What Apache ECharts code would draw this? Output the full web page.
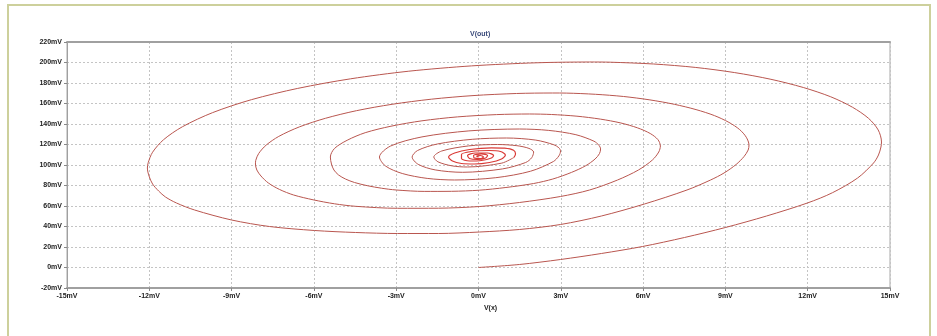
<!DOCTYPE html>
<html>
<head>
<meta charset="utf-8">
<script src="https://cdn.jsdelivr.net/npm/echarts@6/dist/echarts.min.js"></script>
<style>
  html, body { margin: 0; padding: 0; background: #ffffff; }
  #frame { position: absolute; left: 7px; top: 4px; width: 924px; height: 340px;
           border: 2px solid #cdd09c; border-bottom: none; box-sizing: border-box; }
  #chart { position: absolute; left: 0; top: 0; width: 937px; height: 336px; }
</style>
</head>
<body>
<div id="frame"></div>
<div id="chart"></div>
<script>
// Phase trace: V(out) against V(x), both in mV, a decaying spiral settling near (0, 108 mV)
// first turn
const turn1X = [0, 1.49, 2.99, 4.48, 5.98, 7.51, 9.00, 10.50, 11.99, 12.91, 13.82, 14.40, 14.58, 14.67, 14.69,
  14.57, 14.22, 13.63, 12.84, 11.84, 10.66, 9.34, 7.90, 6.38, 4.80, 4.05,
  2.10, -0.26, -2.54, -4.66, -6.59, -8.28, -9.69, -10.79, -11.48, -11.88, -12.04, -12.07,
  -12.01, -11.88, -11.66, -11.41, -11.01, -10.35, -9.00, -7.62, -5.98, -4.48, -2.95, -1.46, 0.04, 1.49, 2.99];
const turn1Y = [0, 2.93, 7.80, 13.66, 20.49, 29.27, 39.02, 50.24, 62.93, 73.07, 87.32, 101.95, 109.76, 117.56, 122.44,
  134.15, 145.46, 156.39, 166.54, 175.61, 183.61, 190.15, 195.22, 198.54, 200.29, 200.49,
  199.71, 196.68, 191.51, 184.10, 174.73, 163.71, 151.12, 137.37, 124.68, 112.49, 102.24, 97.07,
  89.27, 81.46, 74.63, 68.78, 62.93, 56.10, 46.34, 40.00, 36.10, 34.15, 33.17, 33.17, 34.63, 37.07, 41.95];
// second turn
const turn2X = [4.48, 6.05, 7.60, 8.46, 8.95, 9.39, 9.68, 9.83, 9.86,
  9.76, 9.52, 9.13, 8.60, 7.93, 7.14, 6.25, 5.29, 4.26, 3.20, 2.70,
  1.39, -0.20, -1.72, -3.15, -4.45, -5.58, -6.53, -7.28, -7.74, -8.01, -8.12, -8.13,
  -8.08, -7.93, -7.66, -7.25, -6.74, -6.03, -5.25, -4.48, -2.95, -1.46, 0.04, 1.49, 2.99,
  4.05, 5.07, 5.83, 6.34, 6.57, 6.63];
const turn2Y = [50.24, 61.95, 75.61, 85.37, 92.20, 100.49, 108.29, 114.63, 119.51,
  127.12, 134.54, 141.56, 148.20, 154.05, 159.22, 163.51, 166.83, 168.98, 170.15, 170.24,
  169.76, 167.71, 164.20, 159.22, 152.98, 145.56, 137.17, 127.90, 119.41, 111.32, 104.49, 100.98,
  95.12, 89.27, 82.44, 76.10, 70.73, 66.05, 62.15, 59.71, 57.76, 57.85, 59.51, 63.41, 69.27,
  75.61, 85.37, 95.12, 104.88, 112.68, 118.54];
// third turn
const turn3X = [6.54, 6.26, 5.80, 5.19, 4.44, 3.59, 2.66, 1.86,
  0.66, -0.77, -2.06, -3.19, -4.13, -4.79, -5.25, -5.40,
  -5.36, -5.27, -5.10, -4.85, -4.52, -4.05, -3.54, -3.00, -1.98, -0.98, 0.03, 1.00, 2.01,
  2.71, 3.39, 3.91, 4.25, 4.41, 4.45];
const turn3Y = [124.78, 130.73, 136.20, 140.98, 144.78, 147.61, 149.27, 149.76,
  149.17, 146.93, 143.12, 137.85, 131.51, 124.10, 116.10, 107.80,
  100.98, 95.12, 90.24, 86.34, 82.93, 79.80, 77.37, 75.61, 74.24, 74.34, 75.41, 78.05, 81.95,
  86.34, 92.78, 99.32, 105.85, 111.12, 115.61];
// fourth to sixth turns
const turn4X = [4.39, 4.21, 3.55, 2.56, 1.49, -0.35, -2.06, -3.21, -3.61, -3.39, -2.78, -1.87, -0.87, 0.63, 1.90, 2.73, 2.93, 2.99,
  2.93, 2.75, 2.09, 1.02, -0.23, -1.50, -2.22, -2.42, -2.20, -1.58, -0.58, 0.88, 1.72, 1.94, 2.01,
  1.84, 1.40, 0.69, -0.36, -1.34, -1.63, -1.48, -0.96, -0.40, 0.85, 1.29];
const turn4Y = [119.22, 123.22, 129.56, 133.76, 135.12, 133.27, 127.41, 118.44, 107.80, 99.02, 91.71, 86.93, 85.37, 87.61, 93.95, 103.41, 108.88, 113.66,
  116.78, 119.71, 124.29, 126.34, 125.07, 120.49, 114.15, 107.80, 100.68, 95.22, 92.88, 96.20, 102.44, 107.12, 112.68,
  116.20, 118.83, 120.00, 118.63, 113.66, 107.80, 103.12, 99.12, 98.05, 101.85, 107.32];
// innermost turns, drawn brighter
const tailX = [1.29, 1.35, 1.28, 0.95, 0.47, -0.33, -0.87, -1.09, -0.95, -0.62, -0.15, 0.40, 0.84, 0.98, 0.80, 0.40, -0.26, -0.62, -0.62, -0.33,
  0.11, 0.47, 0.55, 0.33, -0.11, -0.40, -0.33, -0.04, 0.26, 0.33, 0.11, -0.18, -0.15, 0.07, 0.18, 0.07, -0.07, 0];
const tailY = [107.32, 110.73, 114.34, 116.39, 116.78, 115.12, 111.71, 107.80, 103.90, 101.46, 100.98, 102.44, 105.85, 109.76, 113.17, 114.15, 113.17, 110.24, 106.34, 103.90,
  104.39, 106.83, 109.27, 111.71, 111.71, 109.27, 106.34, 105.37, 106.83, 109.27, 110.73, 109.27, 106.83, 106.34, 107.80, 109.27, 108.49, 107.80];

const xTicks = { min: -15, max: 15, step: 3 };
const yTicks = { min: -20, max: 220, step: 20 };

const zip = (a, b) => a.map((v, i) => [v, b[i]]);
const spiral = [].concat(zip(turn1X, turn1Y), zip(turn2X, turn2Y), zip(turn3X, turn3Y), zip(turn4X, turn4Y));

const chart = echarts.init(document.getElementById('chart'), null, { renderer: 'canvas' });
const labelStyle = { fontFamily: 'Liberation Sans', fontSize: 7, fontWeight: 'bold', color: '#222' };
const gridLine = { show: true, lineStyle: { color: '#c4c4c4', type: [2, 2], width: 1 } };

chart.setOption({
  animation: false,
  backgroundColor: 'transparent',
  grid: { left: 67, right: 47, top: 42, bottom: 48, show: true, borderColor: '#a8a8a8', borderWidth: 1 },
  graphic: [
    { type: 'text', left: 470, top: 31,
      style: { text: 'V(out)', fontFamily: 'Liberation Sans', fontSize: 7, fontWeight: 'bold', fill: '#3a4a7a' } }
  ],
  xAxis: [
    {
      type: 'value', min: xTicks.min, max: xTicks.max, interval: xTicks.step, position: 'bottom',
      name: 'V(x)', nameLocation: 'middle', nameGap: 16,
      nameTextStyle: { fontFamily: 'Liberation Sans', fontSize: 7, fontWeight: 'bold', color: '#222', padding: [0, 0, 0, 24] },
      axisLine: { show: true, onZero: false, lineStyle: { color: '#a0a0a0', width: 2 } },
      axisTick: { show: true, length: 3, lineStyle: { color: '#888' } },
      axisLabel: Object.assign({ margin: 5, formatter: v => v + 'mV' }, labelStyle),
      splitLine: gridLine
    },
    {
      type: 'value', min: xTicks.min, max: xTicks.max, interval: xTicks.step, position: 'top',
      axisLine: { show: true, onZero: false, lineStyle: { color: '#a0a0a0', width: 2 } },
      axisTick: { show: false }, axisLabel: { show: false }, splitLine: { show: false }
    }
  ],
  yAxis: {
    type: 'value', min: yTicks.min, max: yTicks.max, interval: yTicks.step,
    axisLine: { show: true, onZero: false, lineStyle: { color: '#a0a0a0', width: 1 } },
    axisTick: { show: true, length: 3, lineStyle: { color: '#888' } },
    axisLabel: Object.assign({ margin: 5, formatter: v => v + 'mV' }, labelStyle),
    splitLine: gridLine
  },
  series: [
    {
      type: 'line', data: spiral, showSymbol: false, smooth: 0.3,
      lineStyle: { color: '#b9564f', width: 1 }, z: 3
    },
    {
      type: 'line', data: zip(tailX, tailY), showSymbol: false, smooth: 0.3,
      lineStyle: { color: '#d93a36', width: 1.2 }, z: 4
    }
  ]
});
</script>
</body>
</html>
